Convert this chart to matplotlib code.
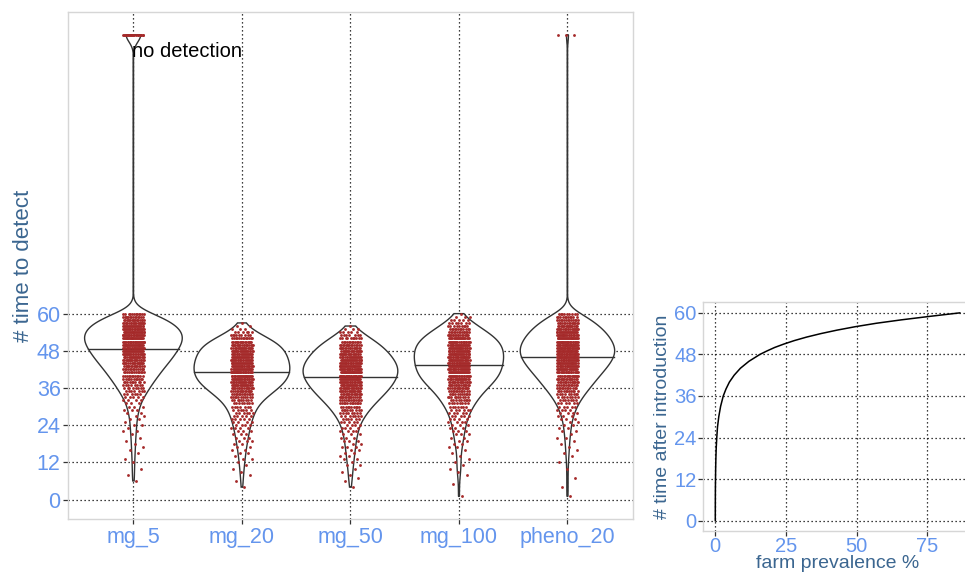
#生成检测时间小提琴图 + 农场流行率曲线
import numpy as np
import matplotlib.pyplot as plt
import matplotlib
matplotlib.rcParams['font.family'] = ['Liberation Sans', 'DejaVu Sans']

# ---- data: simulations per integer time step (index = time 0..60) ----
groups = ['mg_5', 'mg_20', 'mg_50', 'mg_100', 'pheno_20']
mg_5 = [0, 0, 0, 0, 0, 0,
        1, 0, 1, 0, 1, 0,
        1, 1, 0, 1, 1, 1,
        1, 1, 1, 1, 2, 1,
        2, 1, 2, 2, 2, 3,
        3, 3, 4, 5, 6, 7,
        8, 8, 10, 11, 12, 13,
        14, 15, 17, 18, 19, 20,
        21, 22, 23, 24, 24, 24,
        24, 23, 21, 19, 17, 14, 12]
mg_20 = [0, 0, 0, 0,
         1, 0, 1, 0, 1, 1,
         1, 1, 1, 2, 1, 2,
         2, 2, 2, 3, 3, 3,
         3, 4, 4, 4, 5, 5,
         6, 6, 7, 8, 9, 11,
         13, 15, 17, 19, 20, 21,
         22, 22, 22, 22, 22, 21,
         21, 20, 20, 19, 18, 16,
         13, 9, 6, 3, 2, 1]
mg_50 = [0, 0, 0, 0,
         1, 0, 1, 1, 1, 1,
         1, 2, 1, 2, 2, 2,
         2, 3, 2, 3, 3, 3,
         4, 4, 4, 5, 6, 7,
         8, 9, 10, 12, 13, 15,
         16, 18, 19, 20, 21, 22,
         23, 23, 23, 23, 22, 21,
         20, 18, 18, 16, 15, 12,
         10, 7, 5, 3, 1]
mg_100 = [0, 1, 0, 0, 0, 1,
          0, 0, 1, 1, 1, 1,
          1, 1, 1, 1, 1, 2,
          2, 2, 2, 3, 3, 3,
          3, 4, 4, 5, 5, 6,
          7, 8, 9, 10, 11, 12,
          15, 16, 17, 19, 20, 21,
          21, 21, 22, 22, 22, 22,
          22, 22, 21, 20, 19, 17,
          14, 12, 9, 7, 5, 3, 1]
pheno_20 = [0, 1, 0, 0, 1, 0,
            0, 1, 0, 0, 1, 0,
            1, 0, 1, 1, 1, 1,
            1, 1, 2, 1, 2, 2,
            2, 2, 3, 3, 4, 4,
            5, 6, 7, 8, 9, 11,
            12, 13, 15, 16, 17, 19,
            20, 22, 23, 24, 25, 26,
            26, 26, 25, 24, 23, 22,
            21, 19, 17, 15, 13, 11, 9]
no_detect_value = 150
no_detect_counts = [20, 0, 0, 0, 3]

# farm prevalence (%) vs time after introduction
curve_time = [0, 3, 6, 9, 12, 15, 18, 21, 24, 27, 30, 33, 36, 38, 40, 42, 44,
              46, 48, 49, 50, 51, 52, 53, 54, 55, 56, 57, 58, 59, 60]
curve_prev = [0.02, 0.03, 0.04, 0.06, 0.1, 0.15, 0.23, 0.35, 0.55, 0.8, 1.25,
              1.9, 2.84, 3.8, 5.0, 6.7, 8.9, 11.9, 15.8, 18.3, 21.0, 24.3, 28.0,
              32.3, 37.3, 43.0, 49.5, 57.0, 66.0, 76.0, 86.5]

tick_col = '#6495ED'
title_col = '#3B6690'
grid_kw = dict(color='black', linestyle=(0, (1, 2.2)), linewidth=0.9)
border_col = '#D6D6D6'


def kde(v, grid):
    n = len(v)
    q75, q25 = np.percentile(v, [75, 25])
    bw = 0.9 * min(v.std(ddof=1), (q75 - q25) / 1.34) * n ** -0.2
    z = (grid[:, None] - v[None, :]) / bw
    return np.exp(-0.5 * z ** 2).sum(1) / (n * bw * np.sqrt(2 * np.pi))


fig = plt.figure(figsize=(9.65, 5.72), dpi=100, facecolor='white')
ax = fig.add_axes([0.0708, 0.0918, 0.5847, 0.8877])

values = []
for counts, nd in zip([mg_5, mg_20, mg_50, mg_100, pheno_20], no_detect_counts):
    v = np.repeat(np.arange(len(counts)), counts).astype(float)
    v = np.concatenate([v, np.full(nd, no_detect_value)])
    values.append(v)

grids = [np.linspace(v.min(), v.max(), 512) for v in values]
dens = [kde(v, g) for v, g in zip(values, grids)]
dmax = max(d.max() for d in dens)

for i, (v, g, d) in enumerate(zip(values, grids, dens)):
    x0 = i + 1
    hw = 0.45 * d / dmax
    ax.fill(np.concatenate([x0 + hw, (x0 - hw)[::-1]]),
            np.concatenate([g, g[::-1]]),
            facecolor='white', edgecolor='#333333', linewidth=1.0, zorder=2)
    cum = np.cumsum(d) / d.sum()
    ymed = np.interp(0.5, cum, g)
    w = np.interp(ymed, g, hw)
    ax.plot([x0 - w, x0 + w], [ymed, ymed], color='#333333', lw=1.0, zorder=2)
    k = np.arange(len(v)) + 1
    offs = ((k * 0.6180339887) % 1 - 0.5) * 0.2
    ax.scatter(x0 + offs, v, s=4.2, c='#A52A2A', linewidths=0, zorder=3)

ax.text(0.99, 144.5, 'no detection', ha='left', va='center', fontsize=14.5,
        color='black', zorder=4)

lo = min(v.min() for v in values)
hi = max(v.max() for v in values)
pad = (hi - lo) * 0.05
ax.set_ylim(lo - pad, hi + pad)
ax.set_xlim(0.4, 5.6)
ax.set_yticks(np.arange(0, 61, 12))
ax.set_xticks(np.arange(1, 6))
ax.set_xticklabels(groups)
ax.set_axisbelow(True)
ax.grid(True, **grid_kw)
ax.tick_params(labelsize=15.5, labelcolor=tick_col, color='#333333', length=3.5,
               width=0.9, pad=2)
ax.set_ylabel('# time to detect', fontsize=16, color=title_col, labelpad=2)
for s in ax.spines.values():
    s.set_color(border_col)
    s.set_linewidth(1.0)

# ---- right panel ----
ax2 = fig.add_axes([0.7285, 0.0717, 0.2788, 0.3995])
ax2.plot(curve_prev, curve_time, color='black', lw=1.1)
xpad = (max(curve_prev) - 0) * 0.05
ax2.set_xlim(-xpad, max(curve_prev) + xpad)
ax2.set_ylim(-3, 63)
ax2.set_xticks([0, 25, 50, 75])
ax2.set_yticks(np.arange(0, 61, 12))
ax2.set_axisbelow(True)
ax2.grid(True, **grid_kw)
ax2.tick_params(labelsize=14.5, labelcolor=tick_col, color='#333333', length=3.5,
                width=0.9, pad=1)
ax2.set_ylabel('# time after introduction', fontsize=14, color=title_col, labelpad=2)
ax2.set_xlabel('farm prevalence %', fontsize=14, color=title_col, labelpad=-1)
for s in ax2.spines.values():
    s.set_color(border_col)
    s.set_linewidth(1.0)

plt.savefig('out.png', dpi=100, facecolor='white')
